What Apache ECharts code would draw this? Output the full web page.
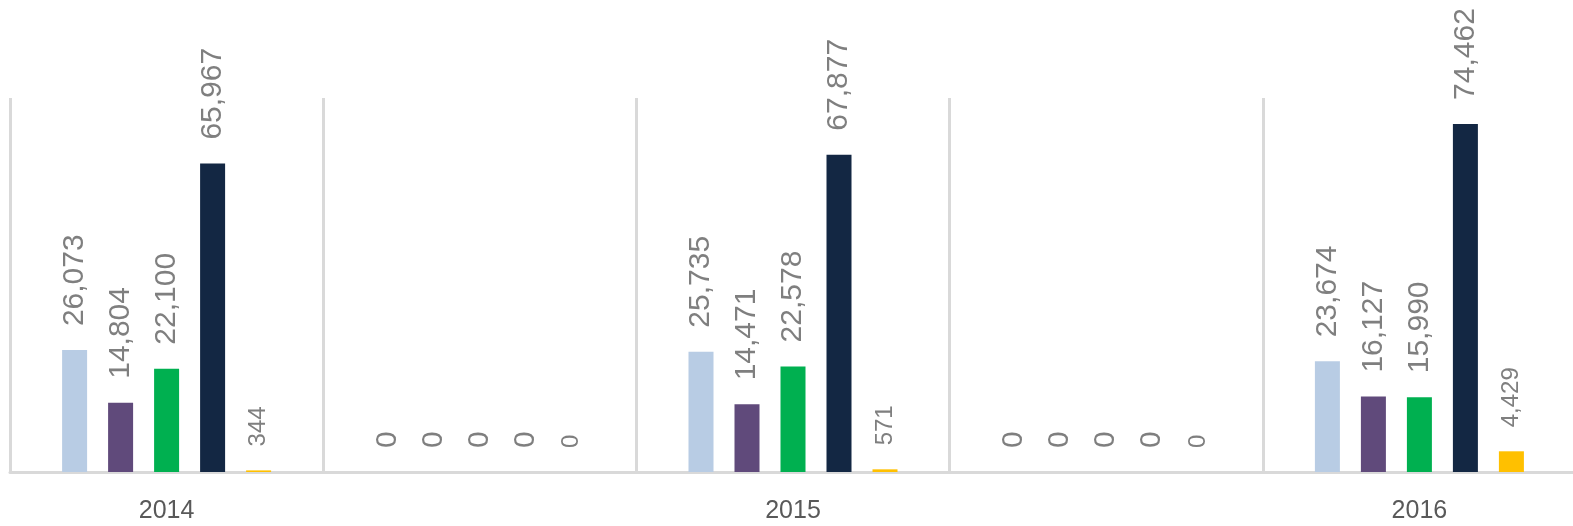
<!DOCTYPE html>
<html>
<head>
<meta charset="utf-8">
<script src="https://cdn.jsdelivr.net/npm/echarts@6/dist/echarts.min.js"></script>
<style>
  html, body { margin: 0; padding: 0; background: #fff; }
  #container { width: 1573px; height: 526px; }
</style>
</head>
<body>
<div id="container"></div>
<script>
var categories = ['2014', '', '2015', '', '2016'];
var seriesA = [26073, 0, 25735, 0, 23674];
var seriesB = [14804, 0, 14471, 0, 16127];
var seriesC = [22100, 0, 22578, 0, 15990];
var seriesD = [65967, 0, 67877, 0, 74462];
var seriesE = [344, 0, 571, 0, 4429];

var colors = ['#b8cce4', '#604a7b', '#00b050', '#132743', '#ffc000'];
var allSeries = [seriesA, seriesB, seriesC, seriesD, seriesE];

var dom = document.getElementById('container');
var myChart = echarts.init(dom, null, { renderer: 'canvas' });

function fmt(p) {
  return Number(p.value).toLocaleString('en-US');
}

var series = allSeries.map(function (vals, i) {
  return {
    type: 'bar',
    data: vals,
    barWidth: 25,
    barGap: '84%',
    itemStyle: { color: colors[i] },
    label: {
      show: true,
      position: 'top',
      distance: 24,
      rotate: 90,
      align: 'left',
      verticalAlign: 'middle',
      color: '#7f7f7f',
      fontFamily: 'Liberation Sans',
      fontSize: i === 4 ? 24 : 30,
      formatter: fmt
    }
  };
});

var option = {
  animation: false,
  grid: {
    left: 10,
    right: -3,
    top: 98,
    bottom: 54,
    containLabel: false,
    outerBoundsMode: 'none'
  },
  xAxis: {
    type: 'category',
    data: categories,
    boundaryGap: true,
    axisLine: { lineStyle: { color: '#d9d9d9', width: 3 } },
    axisTick: { show: false },
    splitLine: { show: true, lineStyle: { color: '#d9d9d9', width: 3 } },
    axisLabel: {
      color: '#595959',
      fontFamily: 'Liberation Sans',
      fontSize: 25,
      margin: 27
    }
  },
  yAxis: {
    type: 'value',
    min: 0,
    max: 80000,
    show: false,
    splitLine: { show: false }
  },
  series: series
};

myChart.setOption(option);

window.addEventListener('resize', function () {
  myChart.resize();
});
</script>
</body>
</html>
